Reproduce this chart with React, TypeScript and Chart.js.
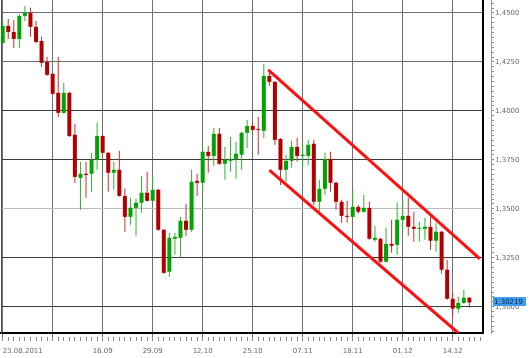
import { useEffect, useRef } from "react";
import { Chart, registerables } from "chart.js";

Chart.register(...registerables);

// Candle data (EUR/USD daily, 23.08.2011 – 19.12.2011), index = trading day
const opens = [
  1.4347, 1.4434, 1.4403, 1.4367, 1.4485, 1.4500, 1.4429, 1.4357, 1.4250, 1.4189,
  1.4092, 1.3990, 1.4092, 1.3878, 1.3658, 1.3679, 1.3679, 1.3750, 1.3872, 1.3786,
  1.3684, 1.3699, 1.3566, 1.3459, 1.3505, 1.3531, 1.3582, 1.3541, 1.3597, 1.3393,
  1.3179, 1.3347, 1.3352, 1.3439, 1.3393, 1.3643, 1.3633, 1.3791, 1.3770, 1.3883,
  1.3730, 1.3745, 1.3755, 1.3776, 1.3888, 1.3923, 1.3908, 1.3898, 1.4179, 1.4148,
  1.3857, 1.3699, 1.3745, 1.3816, 1.3770, 1.3770, 1.3832, 1.3536, 1.3602, 1.3755,
  1.3633, 1.3536, 1.3464, 1.3459, 1.3510, 1.3485, 1.3505, 1.3342, 1.3347, 1.3230,
  1.3321, 1.3316, 1.3444, 1.3464, 1.3408, 1.3398, 1.3398, 1.3408, 1.3337, 1.3383,
  1.3189, 1.3041, 1.2990, 1.3020, 1.3046,
];
const highs = [
  1.4474, 1.4469, 1.4464, 1.4495, 1.4536, 1.4526, 1.4459, 1.4378, 1.4276, 1.4194,
  1.4276, 1.4143, 1.4097, 1.3934, 1.3740, 1.3740, 1.3786, 1.3939, 1.3878, 1.3791,
  1.3740, 1.3796, 1.3602, 1.3556, 1.3551, 1.3668, 1.3689, 1.3668, 1.3602, 1.3398,
  1.3378, 1.3378, 1.3459, 1.3526, 1.3699, 1.3679, 1.3821, 1.3821, 1.3913, 1.3913,
  1.3816, 1.3867, 1.3842, 1.3893, 1.3954, 1.3939, 1.3969, 1.4240, 1.4199, 1.4153,
  1.3862, 1.3776, 1.3847, 1.3862, 1.3827, 1.3852, 1.3852, 1.3648, 1.3786, 1.3791,
  1.3638, 1.3546, 1.3541, 1.3602, 1.3520, 1.3571, 1.3536, 1.3413, 1.3352, 1.3403,
  1.3444, 1.3531, 1.3546, 1.3556, 1.3485, 1.3434, 1.3454, 1.3459, 1.3429, 1.3388,
  1.3240, 1.3071, 1.3051, 1.3087, 1.3050,
];
const lows = [
  1.4340, 1.4367, 1.4321, 1.4321, 1.4459, 1.4378, 1.4347, 1.4224, 1.4179, 1.4082,
  1.3969, 1.3985, 1.3867, 1.3633, 1.3495, 1.3556, 1.3587, 1.3699, 1.3781, 1.3587,
  1.3597, 1.3561, 1.3383, 1.3418, 1.3362, 1.3480, 1.3536, 1.3536, 1.3388, 1.3168,
  1.3153, 1.3265, 1.3250, 1.3362, 1.3383, 1.3566, 1.3587, 1.3684, 1.3719, 1.3724,
  1.3648, 1.3689, 1.3653, 1.3699, 1.3811, 1.3893, 1.3776, 1.3862, 1.4128, 1.3827,
  1.3622, 1.3638, 1.3709, 1.3740, 1.3714, 1.3724, 1.3520, 1.3485, 1.3571, 1.3587,
  1.3495, 1.3429, 1.3429, 1.3449, 1.3475, 1.3480, 1.3342, 1.3332, 1.3224, 1.3225,
  1.3276, 1.3265, 1.3393, 1.3362, 1.3332, 1.3332, 1.3342, 1.3291, 1.3281, 1.3168,
  1.3036, 1.2944, 1.2969, 1.3015, 1.2995,
];
const closes = [
  1.4434, 1.4403, 1.4367, 1.4485, 1.4500, 1.4429, 1.4352, 1.4245, 1.4184, 1.4087,
  1.3990, 1.4092, 1.3872, 1.3663, 1.3679, 1.3673, 1.3750, 1.3872, 1.3786, 1.3684,
  1.3699, 1.3566, 1.3459, 1.3505, 1.3531, 1.3582, 1.3541, 1.3597, 1.3393, 1.3173,
  1.3352, 1.3357, 1.3439, 1.3393, 1.3638, 1.3633, 1.3791, 1.3770, 1.3883, 1.3730,
  1.3750, 1.3755, 1.3781, 1.3888, 1.3923, 1.3903, 1.3903, 1.4179, 1.4148, 1.3852,
  1.3699, 1.3745, 1.3816, 1.3770, 1.3776, 1.3827, 1.3536, 1.3602, 1.3755, 1.3633,
  1.3536, 1.3464, 1.3459, 1.3510, 1.3485, 1.3505, 1.3347, 1.3352, 1.3230, 1.3321,
  1.3311, 1.3444, 1.3464, 1.3408, 1.3398, 1.3403, 1.3408, 1.3337, 1.3383, 1.3189,
  1.3041, 1.2990, 1.3020, 1.3046, 1.30219,
];

// Date labels shown under every 9th trading day (the 05.09 one is hidden by overlap)
const xLabelEvery = 9;
const xTickLabels = ["23.08.2011", "", "16.09", "29.09", "12.10", "25.10", "07.11", "18.11", "01.12", "14.12"];

// Price axis
const yMin = 1.2866;
const yMax = 1.4566;
const yMajorTicks = [1.3, 1.325, 1.35, 1.375, 1.4, 1.425, 1.45];
const yMinorStep = 0.0025;

// Trend channel (trading-day index, price)
const channelUpper = [
  { x: 47.8, y: 1.4209 },
  { x: 85.9, y: 1.3244 },
];
const channelLower = [
  { x: 48.0, y: 1.3698 },
  { x: 82.0, y: 1.2866 },
];

const xMin = -0.3;
const xMax = 86.45;

const RED = "#b20000";
const GREEN = "#00a300";
const FONT = { family: "'DejaVu Sans', Verdana, sans-serif", size: 7 };

const fmt = (v: number, d: number) => v.toFixed(d).replace(".", ",");
const isMajorY = (v: number) => yMajorTicks.some((m) => Math.abs(m - v) < 1e-7);

const hGridColor = (v: number) => {
  if (Math.abs(v - 1.35) < 1e-6) return "#bdbdbd";
  if (Math.abs(v - 1.45) < 1e-6 || Math.abs(v - 1.425) < 1e-6) return "#6e6e6e";
  return "#3c3c3c";
};

const priceTag = {
  id: "priceTag",
  afterDraw(chart: any) {
    const s = chart.scales.y2;
    const v = closes[closes.length - 1];
    const py = Math.round(s.getPixelForValue(v));
    const ctx = chart.ctx;
    ctx.save();
    ctx.fillStyle = "#3f9ef0";
    ctx.fillRect(s.left + 2, py - 5, 33, 9);
    ctx.fillStyle = "#10243a";
    ctx.font = "7px 'DejaVu Sans'";
    ctx.textBaseline = "middle";
    ctx.textAlign = "left";
    ctx.fillText(fmt(v, 5), s.left + 3, py);
    ctx.restore();
  },
};

export default function App() {
  const ref = useRef<HTMLCanvasElement | null>(null);

  useEffect(() => {
    if (!ref.current) return;
    const idx = opens.map((_, i) => i);
    const up = (i: number) => closes[i] >= opens[i];

    const chart = new Chart(ref.current, {
      type: "bar",
      data: {
        datasets: [
          {
            type: "line",
            data: channelUpper,
            borderColor: "#ff1010",
            borderWidth: 3,
            pointRadius: 0,
            fill: false,
            xAxisID: "x",
            yAxisID: "y",
            order: 0,
          } as any,
          {
            type: "line",
            data: channelLower,
            borderColor: "#ff1010",
            borderWidth: 3,
            pointRadius: 0,
            fill: false,
            xAxisID: "x",
            yAxisID: "y",
            order: 0,
          } as any,
          {
            type: "bar",
            data: idx.map((i) => ({ x: i, y: [Math.min(opens[i], closes[i]), Math.max(opens[i], closes[i])] })),
            backgroundColor: idx.map((i) => (up(i) ? GREEN : RED)),
            borderWidth: 0,
            grouped: false,
            barPercentage: 0.72,
            categoryPercentage: 1,
            maxBarThickness: 4,
            minBarLength: 1,
            xAxisID: "x",
            yAxisID: "y",
            order: 1,
          } as any,
          {
            type: "bar",
            data: idx.map((i) => ({ x: i, y: [lows[i], highs[i]] })),
            backgroundColor: idx.map((i) => (up(i) ? "#2fb52f" : "#c83030")),
            borderWidth: 0,
            grouped: false,
            barPercentage: 0.18,
            categoryPercentage: 1,
            maxBarThickness: 1,
            xAxisID: "x",
            yAxisID: "y",
            order: 2,
          } as any,
        ],
      },
      options: {
        responsive: false,
        devicePixelRatio: 1,
        animation: false,
        layout: { padding: 0 },
        plugins: { legend: { display: false }, tooltip: { enabled: false } },
        scales: {
          x: {
            type: "linear",
            position: "bottom",
            weight: 0,
            min: xMin,
            max: xMax,
            offset: false,
            afterBuildTicks: (s: any) => {
              s.ticks = xTickLabels.map((_, k) => ({ value: k * xLabelEvery }));
            },
            afterFit: (s: any) => {
              s.height = 4;
              s.paddingLeft = 0;
              s.paddingRight = 0;
            },
            grid: { offset: false, color: "#707070", tickLength: 4, tickColor: "#707070", drawTicks: true },
            border: { display: true, color: "#000", width: 2 },
            ticks: { display: false },
          },
          x2: {
            type: "linear",
            position: "bottom",
            weight: 1,
            min: xMin,
            max: xMax,
            offset: false,
            afterBuildTicks: (s: any) => {
              const t = [];
              for (let i = 0; i <= Math.floor(xMax); i++) t.push({ value: i });
              s.ticks = t;
            },
            afterFit: (s: any) => {
              s.height = 21;
              s.paddingLeft = 0;
              s.paddingRight = 0;
            },
            grid: { offset: false, drawOnChartArea: false, tickLength: 4, tickColor: "#8a8a8a" },
            border: { display: false },
            ticks: {
              autoSkip: false,
              maxRotation: 0,
              minRotation: 0,
              align: "inner",
              padding: 6,
              color: "#6a6a6a",
              font: FONT,
              callback: (v: any) => {
                const n = Number(v);
                return n % xLabelEvery === 0 ? xTickLabels[n / xLabelEvery] ?? "" : "";
              },
            },
          },
          yl: {
            type: "linear",
            position: "left",
            min: yMin,
            max: yMax,
            afterBuildTicks: (s: any) => {
              s.ticks = [];
            },
            afterFit: (s: any) => {
              s.width = 1;
              s.paddingTop = 0;
              s.paddingBottom = 0;
            },
            grid: { drawOnChartArea: false, drawTicks: false },
            border: { display: true, color: "#555", width: 1 },
            ticks: { display: false },
          },
          y: {
            type: "linear",
            position: "right",
            weight: 0,
            min: yMin,
            max: yMax,
            beginAtZero: false,
            afterBuildTicks: (s: any) => {
              s.ticks = yMajorTicks.map((v) => ({ value: v }));
            },
            afterFit: (s: any) => {
              s.width = 8;
              s.paddingTop = 0;
              s.paddingBottom = 0;
            },
            grid: {
              drawTicks: false,
              color: (c: any) => hGridColor(c.tick ? c.tick.value : 0),
            },
            border: { display: true, color: "#000", width: 2 },
            ticks: { display: false },
          },
          y2: {
            type: "linear",
            position: "right",
            weight: 1,
            min: yMin,
            max: yMax,
            beginAtZero: false,
            afterBuildTicks: (s: any) => {
              const t = [];
              for (let k = Math.ceil(yMin / yMinorStep); k * yMinorStep <= yMax; k++) {
                t.push({ value: Math.round(k * yMinorStep * 10000) / 10000 });
              }
              s.ticks = t;
            },
            afterFit: (s: any) => {
              s.width = 39;
              s.paddingTop = 0;
              s.paddingBottom = 0;
            },
            grid: { drawOnChartArea: false, tickLength: 3, tickColor: "#8a8a8a" },
            border: { display: true, color: "#9a9a9a", width: 1 },
            ticks: {
              autoSkip: false,
              padding: 1,
              color: "#6a6a6a",
              font: FONT,
              callback: (v: any) => (isMajorY(Number(v)) ? fmt(Number(v), 4) : ""),
            },
          },
        },
      } as any,
      plugins: [priceTag],
    });

    return () => chart.destroy();
  }, []);

  return (
    <div style={{ position: "fixed", left: 0, top: 0, width: 530, height: 358, background: "#fff" }}>
      <canvas ref={ref} width={530} height={358} style={{ display: "block", width: 530, height: 358 }} />
    </div>
  );
}
